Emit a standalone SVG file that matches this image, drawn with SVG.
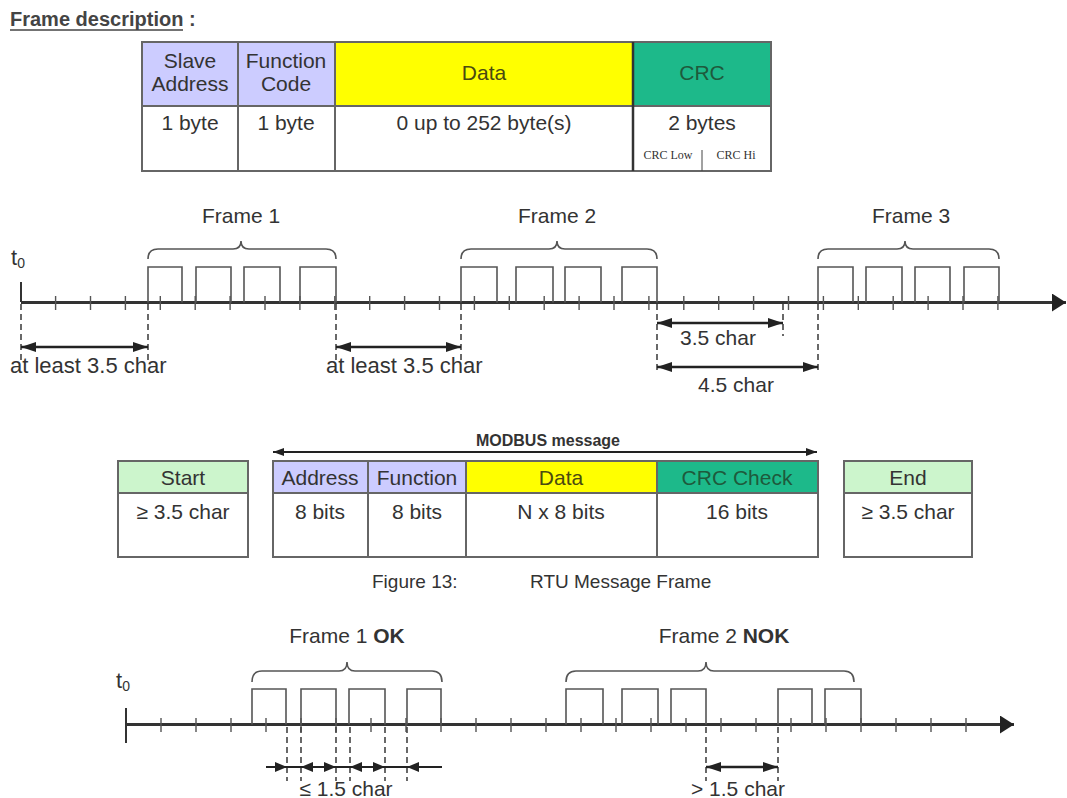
<svg xmlns="http://www.w3.org/2000/svg" width="1067" height="798" viewBox="0 0 1067 798">
<defs>
<style>
text{font-family:"Liberation Sans",Arial,sans-serif;fill:#333}
.t{font-size:21px;text-anchor:middle}
.cell{stroke:#666;stroke-width:2;fill:none}
.ln{stroke:#555;stroke-width:1.6;fill:none}
.axis{stroke:#333;stroke-width:3;fill:none}
.tick{stroke:#555;stroke-width:1.4;fill:none}
.dash{stroke:#444;stroke-width:1.6;stroke-dasharray:6 4;fill:none}
.arr{stroke:#222;stroke-width:2.4;fill:none}
.arrs{stroke:#222;stroke-width:1.8;fill:none}
.lav{fill:#ccccff}
.yel{fill:#ffff00}
.crc{fill:#1db98a}
.grn{fill:#ccf5cc}
</style>
<marker id="ah" viewBox="0 0 15 10" refX="15" refY="5" markerWidth="15" markerHeight="10" markerUnits="userSpaceOnUse" orient="auto-start-reverse"><path d="M0,0 L15,5 L0,10 Z" fill="#222"/></marker>
<marker id="ahs" viewBox="0 0 11 8" refX="11" refY="4" markerWidth="11" markerHeight="8" markerUnits="userSpaceOnUse" orient="auto-start-reverse"><path d="M0,0 L11,4 L0,8 Z" fill="#222"/></marker>
<marker id="axh" viewBox="0 0 14 18" refX="14" refY="9" markerWidth="14" markerHeight="18" markerUnits="userSpaceOnUse" orient="auto"><path d="M0,0 L14,9 L0,18 Z" fill="#222"/></marker>
</defs>
<rect width="1067" height="798" fill="#fff"/>

<g id="title">
<text x="10" y="26" style="font-size:20px;font-weight:bold;fill:#444">Frame description :</text>
<line x1="10" y1="30" x2="183" y2="30" stroke="#444" stroke-width="1.6"/>
</g>

<g id="frame-table">
<rect x="142" y="42" width="96" height="64" class="lav"/>
<rect x="238" y="42" width="97" height="64" class="lav"/>
<rect x="335" y="42" width="298" height="64" class="yel"/>
<rect x="633" y="42" width="138" height="64" class="crc"/>
<rect x="142" y="42" width="629" height="129" class="cell"/>
<path d="M142,106 H771 M238,42 V171 M335,42 V171" class="cell"/>
<path d="M633,42 V171" stroke="#333" stroke-width="2.5"/>
<path d="M702,150 V171" stroke="#444" stroke-width="1"/>
<text class="t" x="190" y="68">Slave</text>
<text class="t" x="190" y="91">Address</text>
<text class="t" x="286" y="68">Function</text>
<text class="t" x="286" y="91">Code</text>
<text class="t" x="484" y="80" style="fill:#4a4a10">Data</text>
<text class="t" x="702" y="80" style="fill:#1e5a3c">CRC</text>
<text class="t" x="190" y="130">1 byte</text>
<text class="t" x="286" y="130">1 byte</text>
<text class="t" x="484" y="130">0 up to 252 byte(s)</text>
<text class="t" x="702" y="130">2 bytes</text>
<text x="668" y="159" style="font-family:'Liberation Serif',serif;font-size:12px;text-anchor:middle">CRC Low</text>
<text x="736" y="159" style="font-family:'Liberation Serif',serif;font-size:12px;text-anchor:middle">CRC Hi</text>
</g>

<g id="timeline-1">
<line x1="21" y1="302.5" x2="1066" y2="302.5" class="axis" marker-end="url(#axh)"/>
<path class="tick" d="M55.6,296V310 M90.5,296V310 M125.4,296V310 M160.3,296V310 M195.2,296V310 M230.1,296V310 M265,296V310 M299.9,296V310 M334.8,296V310 M369.7,296V310 M404.6,296V310 M439.5,296V310 M474.4,296V310 M509.3,296V310 M544.2,296V310 M579.1,296V310 M614,296V310 M648.9,296V310 M683.8,296V310 M718.7,296V310 M753.6,296V310 M788.5,296V310 M823.4,296V310 M858.3,296V310 M893.2,296V310 M928.1,296V310 M963,296V310 M997.9,296V310"/>
<path d="M21,282 V302" stroke="#333" stroke-width="2"/>
<text x="11" y="265" style="font-size:22px">t<tspan style="font-size:14px" dy="3">0</tspan></text>
<path class="ln" d="M148,302.5V267H182V302.5 M196,302.5V267H231V302.5 M244,302.5V267H280V302.5 M300,302.5V267H336V302.5"/>
<path class="ln" d="M461,302.5V267H497V302.5 M516,302.5V267H553V302.5 M565,302.5V267H601V302.5 M622,302.5V267H657V302.5"/>
<path class="ln" d="M818,302.5V267H853V302.5 M866,302.5V267H902V302.5 M915,302.5V267H950V302.5 M964,302.5V267H999V302.5"/>
<path class="ln" d="M148,259 Q148,249 158,249 H233 Q241,249 241,241 Q241,249 249,249 H326 Q336,249 336,259"/>
<path class="ln" d="M461,259 Q461,249 471,249 H549 Q557,249 557,241 Q557,249 565,249 H647 Q657,249 657,259"/>
<path class="ln" d="M818,259 Q818,249 828,249 H897 Q905,249 905,241 Q905,249 913,249 H989 Q999,249 999,259"/>
<text class="t" x="241" y="223">Frame 1</text>
<text class="t" x="557" y="223">Frame 2</text>
<text class="t" x="911" y="223">Frame 3</text>
<path class="dash" d="M21,304V362 M148,304V362 M336,304V362 M461,304V362 M657,304V372 M818,304V372 M783,304V336"/>
<line x1="21" y1="347" x2="148" y2="347" class="arr" marker-start="url(#ah)" marker-end="url(#ah)"/>
<line x1="336" y1="347" x2="461" y2="347" class="arr" marker-start="url(#ah)" marker-end="url(#ah)"/>
<line x1="657" y1="323" x2="783" y2="323" class="arr" marker-start="url(#ah)" marker-end="url(#ah)"/>
<line x1="657" y1="367" x2="818" y2="367" class="arr" marker-start="url(#ah)" marker-end="url(#ah)"/>
<text x="10" y="373" style="font-size:22px">at least 3.5 char</text>
<text x="326" y="373" style="font-size:22px">at least 3.5 char</text>
<text class="t" x="718" y="345">3.5 char</text>
<text class="t" x="736" y="392">4.5 char</text>
</g>

<g id="modbus-frame">
<text x="548" y="446" style="font-size:16px;font-weight:bold;text-anchor:middle">MODBUS message</text>
<line x1="273" y1="452" x2="817" y2="452" class="arrs" marker-start="url(#ahs)" marker-end="url(#ahs)"/>
<g id="start">
<rect x="118" y="461" width="130" height="32" class="grn"/>
<rect x="118" y="461" width="130" height="96" class="cell"/>
<line x1="118" y1="493" x2="248" y2="493" class="cell"/>
<text class="t" x="183" y="485">Start</text>
<text class="t" x="183" y="519">≥ 3.5 char</text>
</g>
<g id="message">
<rect x="273" y="461" width="95" height="32" class="lav"/>
<rect x="368" y="461" width="98" height="32" class="lav"/>
<rect x="466" y="461" width="191" height="32" class="yel"/>
<rect x="657" y="461" width="161" height="32" class="crc"/>
<rect x="273" y="461" width="545" height="96" class="cell"/>
<path d="M273,493H818 M368,461V557 M466,461V557 M657,461V557" class="cell"/>
<text class="t" x="320" y="485">Address</text>
<text class="t" x="417" y="485">Function</text>
<text class="t" x="561" y="485" style="fill:#4a4a10">Data</text>
<text class="t" x="737" y="485" style="fill:#1e5a3c">CRC Check</text>
<text class="t" x="320" y="519">8 bits</text>
<text class="t" x="417" y="519">8 bits</text>
<text class="t" x="561" y="519">N x 8 bits</text>
<text class="t" x="737" y="519">16 bits</text>
</g>
<g id="end">
<rect x="844" y="461" width="128" height="32" class="grn"/>
<rect x="844" y="461" width="128" height="96" class="cell"/>
<line x1="844" y1="493" x2="972" y2="493" class="cell"/>
<text class="t" x="908" y="485">End</text>
<text class="t" x="908" y="519">≥ 3.5 char</text>
</g>
<text x="372" y="588" style="font-size:19px">Figure 13:</text>
<text x="530" y="588" style="font-size:19px">RTU Message Frame</text>
</g>

<g id="timeline-2">
<line x1="126" y1="724.5" x2="1014" y2="724.5" class="axis" marker-end="url(#axh)"/>
<path class="tick" d="M161,718V732 M196,718V732 M231,718V732 M266,718V732 M301,718V732 M336,718V732 M371,718V732 M406,718V732 M441,718V732 M476,718V732 M511,718V732 M546,718V732 M581,718V732 M616,718V732 M651,718V732 M686,718V732 M721,718V732 M756,718V732 M791,718V732 M826,718V732 M861,718V732 M896,718V732 M931,718V732 M966,718V732"/>
<path d="M126,708 V743" stroke="#333" stroke-width="2"/>
<text x="116" y="688" style="font-size:22px">t<tspan style="font-size:14px" dy="3">0</tspan></text>
<path class="ln" d="M252,724.5V689H286V724.5 M301,724.5V689H336V724.5 M349,724.5V689H385V724.5 M407,724.5V689H441V724.5"/>
<path class="ln" d="M566,724.5V689H603V724.5 M622,724.5V689H658V724.5 M671,724.5V689H706V724.5 M778,724.5V689H812V724.5 M825,724.5V689H861V724.5"/>
<path class="ln" d="M252,682 Q252,671 262,671 H339 Q347,671 347,662 Q347,671 355,671 H432 Q442,671 442,682"/>
<path class="ln" d="M566,682 Q566,671 576,671 H698 Q706,671 706,662 Q706,671 714,671 H844 Q854,671 854,682"/>
<text class="t" x="347" y="643">Frame 1 <tspan style="font-weight:bold">OK</tspan></text>
<text class="t" x="724" y="643">Frame 2 <tspan style="font-weight:bold">NOK</tspan></text>
<path class="dash" d="M287,727V781 M301,727V781 M336,727V781 M350,727V781 M385,727V781 M407,727V781 M706,727V781 M778,727V781"/>
<line x1="266" y1="767" x2="442" y2="767" class="arrs"/>
<path fill="#222" d="M287,767 l-12,-5 v10 Z M301,767 l12,-5 v10 Z M336,767 l-12,-5 v10 Z M350,767 l12,-5 v10 Z M385,767 l-12,-5 v10 Z M407,767 l12,-5 v10 Z"/>
<line x1="706" y1="767" x2="778" y2="767" class="arr" marker-start="url(#ah)" marker-end="url(#ah)"/>
<text class="t" x="346" y="796">≤ 1.5 char</text>
<text class="t" x="738" y="796">&gt; 1.5 char</text>
</g>
</svg>
